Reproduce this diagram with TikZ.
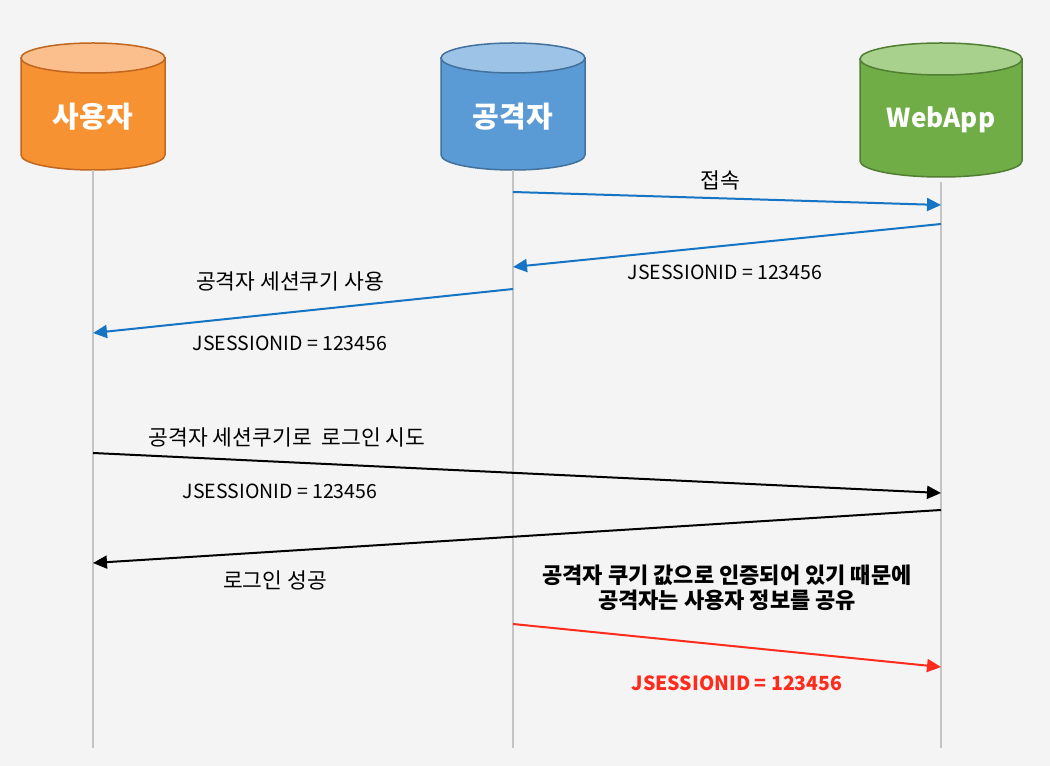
\documentclass[tikz,border=0pt]{standalone}
\usepackage{fontspec}
\setmainfont{Noto Sans CJK KR}
\usetikzlibrary{arrows.meta}
\definecolor{bg}{HTML}{F4F4F4}
\definecolor{life}{HTML}{C4C4C4}
\definecolor{orangebody}{HTML}{F79232}
\definecolor{orangetop}{HTML}{FABF8C}
\definecolor{orangeline}{HTML}{C0661E}
\definecolor{bluebody}{HTML}{5B9BD5}
\definecolor{bluetop}{HTML}{9DC3E6}
\definecolor{blueline}{HTML}{41719C}
\definecolor{greenbody}{HTML}{70AD47}
\definecolor{greentop}{HTML}{A9D18E}
\definecolor{greenline}{HTML}{507E32}
\definecolor{msgblue}{HTML}{1574C4}
\definecolor{msgred}{HTML}{FF2B1C}
\begin{document}
\begin{tikzpicture}[x=1pt, y=1pt, line width=2pt,
    font=\fontsize{21.5}{24}\selectfont,
    who/.style={text=white, font=\fontsize{29}{32}\selectfont\bfseries},
    sid/.style={font=\fontsize{19.5}{22}\selectfont},
    lifeline/.style={draw=life, line width=1.5pt},
    msg/.style={-{Triangle[length=14pt, width=13pt]}},
    note/.style={font=\fontsize{22}{25}\selectfont\bfseries, align=center}]
    \fill[bg] (0,0) rectangle (1050,766);
    \useasboundingbox (0,0) rectangle (1050,766);
    % user
    \filldraw[fill=orangebody, draw=orangeline, line width=1.5pt]
        (21,708) -- (21,611) arc (180:360:72 and 15) -- (165,708) -- cycle;
    \filldraw[fill=orangetop, draw=orangeline, line width=1.5pt] (93,708) ellipse (72 and 15);
    \node[who] (user) at (93,649) {사용자};
    % attacker
    \filldraw[fill=bluebody, draw=blueline, line width=1.5pt]
        (441,708) -- (441,611) arc (180:360:72 and 15) -- (585,708) -- cycle;
    \filldraw[fill=bluetop, draw=blueline, line width=1.5pt] (513,708) ellipse (72 and 15);
    \node[who] (attacker) at (513,649) {공격자};
    % webapp
    \filldraw[fill=greenbody, draw=greenline, line width=1.5pt]
        (860,707) -- (860,605) arc (180:360:81 and 16) -- (1022,707) -- cycle;
    \filldraw[fill=greentop, draw=greenline, line width=1.5pt] (941,707) ellipse (81 and 16);
    \node[who, font=\fontsize{26}{30}\selectfont\bfseries] (webapp) at (941,646) {WebApp};
    % lifelines
    \coordinate (userTop) at (93,596);
    \coordinate (userEnd) at (93,18);
    \coordinate (attackerTop) at (513,596);
    \coordinate (attackerEnd) at (513,18);
    \coordinate (webappTop) at (941,584);
    \coordinate (webappEnd) at (941,18);
    \draw[lifeline] (userTop) -- (userEnd);
    \draw[lifeline] (attackerTop) -- (attackerEnd);
    \draw[lifeline] (webappTop) -- (webappEnd);
    % messages
    \coordinate (a1) at (513,574);
    \coordinate (w1) at (941,561);
    \coordinate (w2) at (941,542);
    \coordinate (a2) at (513,499);
    \coordinate (a3) at (513,477);
    \coordinate (u3) at (93,433);
    \coordinate (u4) at (93,313);
    \coordinate (w4) at (941,273);
    \coordinate (w5) at (941,256);
    \coordinate (u5) at (93,203);
    \coordinate (a6) at (513,142);
    \coordinate (w6) at (941,99);
    \draw[msg, msgblue] (a1) -- (w1);
    \draw[msg, msgblue] (w2) -- (a2);
    \draw[msg, msgblue] (a3) -- (u3);
    \draw[msg] (u4) -- (w4);
    \draw[msg] (w5) -- (u5);
    \draw[msg, msgred] (a6) -- (w6);
    % labels
    \node (connect) at (720,586) {접속};
    \node[sid] (sid1) at (725,494) {JSESSIONID = 123456};
    \node (use) at (290,485) {공격자 세션쿠기 사용};
    \node[sid] (sid2) at (290,423) {JSESSIONID = 123456};
    \node (try) at (287,329) {공격자 세션쿠기로~ 로그인 시도};
    \node[sid] (sid3) at (280,275) {JSESSIONID = 123456};
    \node (ok) at (275,186) {로그인 성공};
    \node[note] (share) at (727,178) {공격자 쿠기 값으로 인증되어 있기 때문에\\공격자는 사용자 정보를 공유};
    \node[text=msgred, font=\fontsize{19.5}{22}\selectfont\bfseries] (sid4) at (737,83) {JSESSIONID = 123456};
\end{tikzpicture}
\end{document}
